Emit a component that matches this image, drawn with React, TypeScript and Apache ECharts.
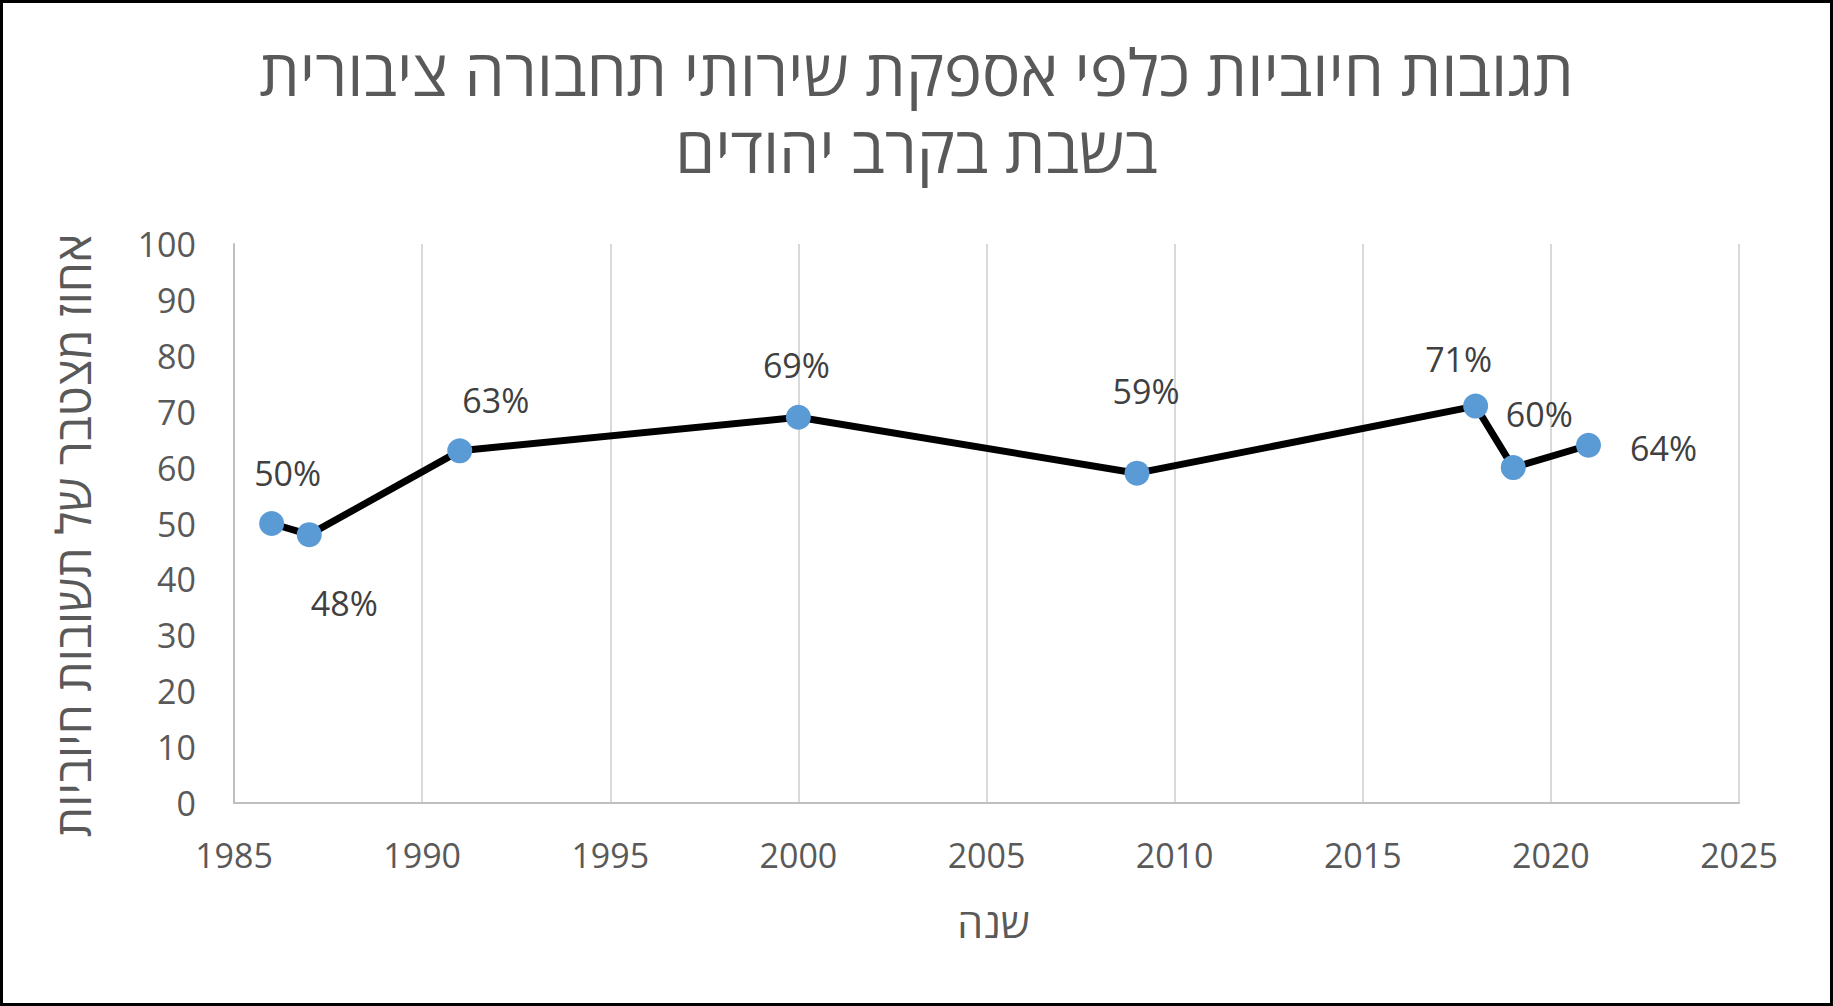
import React, { useEffect, useRef } from "react";
import * as echarts from "echarts";

const titleLines = ["תגובות חיוביות כלפי אספקת שירותי תחבורה ציבורית", "בשבת בקרב יהודים"];
const xAxisName = "שנה";
const yAxisName = "אחוז מצטבר של תשובות חיוביות";
const years = [1986, 1987, 1991, 2000, 2009, 2018, 2019, 2021];
const values = [50, 48, 63, 69, 59, 71, 60, 64];
const labelOffsets = [
  [16, -51],
  [35, 68],
  [36, -51],
  [-2, -52],
  [9, -82],
  [-17, -47],
  [26, -54],
  [75, 3],
];

const FONT = "'Open Sans', 'Liberation Sans', 'DejaVu Sans', sans-serif";

export default function App() {
  const ref = useRef<HTMLDivElement>(null);
  useEffect(() => {
    if (!ref.current) return;
    const chart = echarts.init(ref.current, null, { renderer: "svg" });
    const titleStyle = {
      fontFamily: FONT,
      fontSize: 64,
      lineHeight: 64,
      fontWeight: "normal",
      color: "#595959",
    };
    chart.setOption({
      animation: false,
      backgroundColor: "#ffffff",
      title: titleLines.map((t, i) => ({
        text: t,
        left: "center",
        top: 39 + i * 77,
        padding: 0,
        textStyle: titleStyle,
      })),
      grid: { left: 234, top: 244, right: 94, bottom: 203, containLabel: false },
      xAxis: {
        type: "value",
        min: 1985,
        max: 2025,
        interval: 5,
        name: xAxisName,
        nameLocation: "middle",
        nameGap: 98,
        nameTextStyle: { fontFamily: FONT, fontSize: 41, color: "#595959", padding: [0, 0, 0, 14] },
        axisLine: { show: true, lineStyle: { color: "#BFBFBF", width: 2 } },
        axisTick: { show: false },
        axisLabel: {
          fontFamily: FONT,
          fontSize: 34,
          lineHeight: 34,
          color: "#595959",
          margin: 35,
          formatter: (v: number) => String(v),
        },
        splitLine: { show: true, lineStyle: { color: "#D9D9D9", width: 2 } },
      },
      yAxis: {
        type: "value",
        min: 0,
        max: 100,
        interval: 10,
        name: yAxisName,
        nameLocation: "middle",
        nameRotate: 90,
        nameGap: 138,
        nameTextStyle: { fontFamily: FONT, fontSize: 48, color: "#595959", padding: [0, 24, 0, 0] },
        axisLine: { show: true, lineStyle: { color: "#BFBFBF", width: 2 } },
        axisTick: { show: false },
        axisLabel: {
          fontFamily: FONT,
          fontSize: 34,
          color: "#595959",
          margin: 38,
          formatter: (v: number) => String(v),
        },
        splitLine: { show: false },
      },
      series: [
        {
          type: "line",
          data: years.map((y, i) => ({
            value: [y, values[i]],
            label: { offset: labelOffsets[i] },
          })),
          symbol: "circle",
          symbolSize: 25,
          itemStyle: { color: "#5B9BD5" },
          lineStyle: { color: "#000000", width: 7 },
          label: {
            show: true,
            position: "inside",
            fontFamily: FONT,
            fontSize: 34,
            color: "#404040",
            formatter: (p: any) => `${p.value[1]}%`,
          },
        },
      ],
    });
    return () => chart.dispose();
  }, []);
  return (
    <div style={{ position: "fixed", left: 0, top: 0, width: 1833, height: 1006, background: "#fff" }}>
      <div ref={ref} style={{ width: 1833, height: 1006 }} />
      <div
        style={{
          position: "absolute",
          left: 0,
          top: 0,
          width: 1833,
          height: 1006,
          boxSizing: "border-box",
          border: "3px solid #000",
          pointerEvents: "none",
        }}
      />
    </div>
  );
}
